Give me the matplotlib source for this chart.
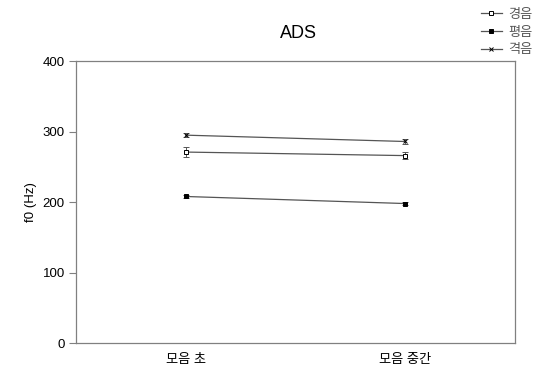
import matplotlib
matplotlib.use("Agg")
import matplotlib.pyplot as plt
from matplotlib.lines import Line2D
import numpy as np

plt.rcParams['font.family'] = ['Liberation Sans', 'Noto Sans CJK KR', 'DejaVu Sans']

# data
positions = ["모음 초", "모음 중간"]
series = ["경음", "평음", "격음"]
means = {
    "경음": [271, 266],
    "평음": [208, 198],
    "격음": [295, 286],
}
errors = {
    "경음": [7, 5],
    "평음": [2, 2],
    "격음": [3, 4],
}
markers = {"경음": "s", "평음": "s", "격음": "x"}
faces = {"경음": "white", "평음": "black", "격음": "black"}

fig = plt.figure(figsize=(5.39, 3.75), dpi=100)
ax = fig.add_axes([0.141, 0.085, 0.814, 0.752])

x = np.arange(len(positions))
handles = []
for name in series:
    ms = 3.5 if markers[name] == "s" else 3
    ax.errorbar(x, means[name], yerr=errors[name], color="#555555", lw=0.9,
                marker=markers[name], ms=ms,
                mfc=faces[name], mec="black", mew=0.7,
                ecolor="#555555", elinewidth=0.7, capsize=2, capthick=0.7)
    handles.append(Line2D([], [], color="#555555", lw=0.9, marker=markers[name],
                          ms=ms, mfc=faces[name], mec="black", mew=0.7,
                          label=name))

ax.set_xlim(-0.5, 1.5)
ax.set_ylim(0, 400)
ax.set_yticks([0, 100, 200, 300, 400])
ax.set_xticks(x)
ax.set_xticklabels(positions, fontsize=9.5)
ax.tick_params(axis="x", length=0, pad=8)
ax.tick_params(axis="y", length=5, color="#808080", labelsize=9.5, pad=3)
for s in ax.spines.values():
    s.set_color("#808080")
    s.set_linewidth(0.9)

ax.set_ylabel("f0 (Hz)", fontsize=9.5, labelpad=4)
fig.text(0.553, 0.912, "ADS", ha="center", va="center", fontsize=13)

fig.legend(handles=handles, loc="upper right", bbox_to_anchor=(1.01, 1.008),
           frameon=False, fontsize=9.5, handlelength=1.6, handletextpad=0.5,
           labelspacing=0.4, labelcolor="#555555")

fig.savefig("out.png", dpi=100)
